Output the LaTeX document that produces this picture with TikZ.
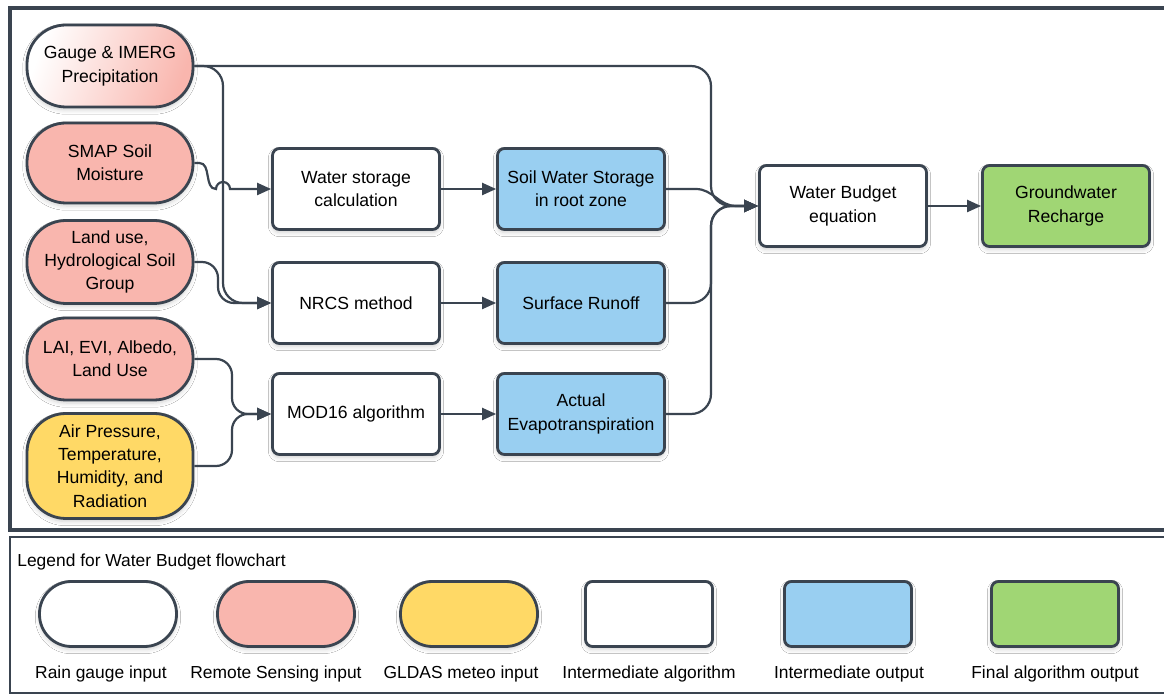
\documentclass[tikz,border=0pt]{standalone}
\usepackage{fontspec}
\setmainfont{Liberation Sans}
\usetikzlibrary{arrows.meta,shadows.blur,calc}
\definecolor{edgegray}{HTML}{3A4450}
\definecolor{pinkfill}{HTML}{F9B6AE}
\definecolor{yellowfill}{HTML}{FFD966}
\definecolor{bluefill}{HTML}{99CFF1}
\definecolor{greenfill}{HTML}{A0D674}
\tikzset{
  softshadow/.style={blur shadow={shadow blur steps=6,shadow xshift=0pt,shadow yshift=-1.5pt,shadow opacity=18}},
  inputpill/.style={draw=edgegray,line width=1.4pt,rounded corners=19.5pt,minimum width=83pt,
    minimum height=40pt,align=center,inner sep=1pt,font=\fontsize{8.8}{11.7}\selectfont,softshadow},
  procbox/.style={draw=edgegray,line width=1.4pt,rounded corners=3.5pt,minimum width=83.5pt,
    minimum height=40.5pt,align=center,inner sep=1pt,font=\fontsize{8.8}{11.7}\selectfont,softshadow},
  conn/.style={draw=edgegray,line width=1.1pt,-{Triangle[length=7pt,width=6pt]}},
  keytext/.style={font=\fontsize{8.7}{10}\selectfont,inner sep=0pt}
}
\begin{document}
\begin{tikzpicture}[x=0.5pt,y=-0.5pt]
\useasboundingbox (0,0) rectangle (1164,695);
\clip (0,0) rectangle (1164,695);
\fill[white] (0,0) rectangle (1164,695);

% frames
\draw[edgegray,line width=2pt] (10,8) rectangle (1185,530);
\draw[edgegray,line width=1.1pt] (10,537) rectangle (1185,693);

% inputs
\node[inputpill,minimum height=41pt,top color=white,bottom color=pinkfill,shading angle=70] (gauge) at (110,66) {Gauge \& IMERG\\Precipitation};
\node[inputpill,fill=pinkfill] (smap) at (110,163) {SMAP Soil\\Moisture};
\node[inputpill,fill=pinkfill,minimum height=41.5pt] (land) at (110,262) {Land use,\\Hydrological Soil\\Group};
\node[inputpill,fill=pinkfill,minimum height=41pt] (lai) at (110,359) {LAI, EVI, Albedo,\\Land Use};
\node[inputpill,fill=yellowfill,minimum height=52.5pt] (air) at (110,466) {Air Pressure,\\Temperature,\\Humidity, and\\Radiation};

% algorithms and outputs
\node[procbox,fill=white] (wsc) at (356,189) {Water storage\\calculation};
\node[procbox,fill=white] (nrcs) at (356,303) {NRCS method};
\node[procbox,fill=white] (mod) at (356,414) {MOD16 algorithm};
\node[procbox,fill=bluefill] (soil) at (581,189) {Soil Water Storage\\in root zone};
\node[procbox,fill=bluefill] (sro) at (581,303) {Surface Runoff};
\node[procbox,fill=bluefill] (aet) at (581,414) {Actual\\Evapotranspiration};
\node[procbox,fill=white] (wb) at (843,206) {Water Budget\\equation};
\node[procbox,fill=greenfill] (gwr) at (1066,206) {Groundwater\\Recharge};

\coordinate (busL) at (223,0);
\coordinate (busR) at (711,0);

% left side connectors
\draw[conn,rounded corners=10pt] (gauge.east) -| (busL |- nrcs.west) -- (nrcs.west);
\draw[conn,rounded corners=8pt] (land.east) -| ($(busL |- nrcs.west)+(-5,0)$) -- (nrcs.west);
\draw[conn] (smap.east) -- ++(5,0) to[out=0,in=180] ($(busL |- wsc.west)+(-7,0)$) arc(180:0:3.5pt) -- (wsc.west);
\draw[conn,rounded corners=8pt] (lai.east) -| ($(busL |- mod.west)+(9,0)$) -- (mod.west);
\draw[conn,rounded corners=8pt] (air.east) -| ($(busL |- mod.west)+(9,0)$) -- (mod.west);

% middle connectors
\draw[conn] (wsc.east) -- (soil.west);
\draw[conn] (nrcs.east) -- (sro.west);
\draw[conn] (mod.east) -- (aet.west);

% right side connectors
\draw[conn,rounded corners=10pt] (gauge.east) -| (busR |- wb.west) -- (wb.west);
\draw[conn] (soil.east) -- ++(30,0) to[out=0,in=180] ($(wb.west)+(-22,0)$) -- (wb.west);
\draw[conn,rounded corners=10pt] (sro.east) -| (busR |- wb.west) -- (wb.west);
\draw[conn,rounded corners=10pt] (aet.east) -| (busR |- wb.west) -- (wb.west);
\draw[conn] (wb.east) -- (gwr.west);

% legend
\node[keytext,anchor=west] (keyTitle) at (17,562) {Legend for Water Budget flowchart};
\node[inputpill,fill=white,minimum width=68.5pt,minimum height=32.5pt,rounded corners=16pt] (keyRain) at (108,614) {};
\node[inputpill,fill=pinkfill,minimum width=68.5pt,minimum height=32.5pt,rounded corners=16pt] (keyRS) at (286,614) {};
\node[inputpill,fill=yellowfill,minimum width=68.5pt,minimum height=32.5pt,rounded corners=16pt] (keyGL) at (469,614) {};
\node[procbox,fill=white,minimum width=63.5pt,minimum height=32.5pt] (keyAlg) at (649,614) {};
\node[procbox,fill=bluefill,minimum width=63.5pt,minimum height=32.5pt] (keyOut) at (848,614) {};
\node[procbox,fill=greenfill,minimum width=63.5pt,minimum height=32.5pt] (keyFin) at (1055,614) {};
\node[keytext] (keyRainText) at (101,674) {Rain gauge input};
\node[keytext] (keyRSText) at (276,674) {Remote Sensing input};
\node[keytext] (keyGLText) at (461,674) {GLDAS meteo input};
\node[keytext] (keyAlgText) at (649,674) {Intermediate algorithm};
\node[keytext] (keyOutText) at (849,674) {Intermediate output};
\node[keytext] (keyFinText) at (1055,674) {Final algorithm output};
\end{tikzpicture}
\end{document}
